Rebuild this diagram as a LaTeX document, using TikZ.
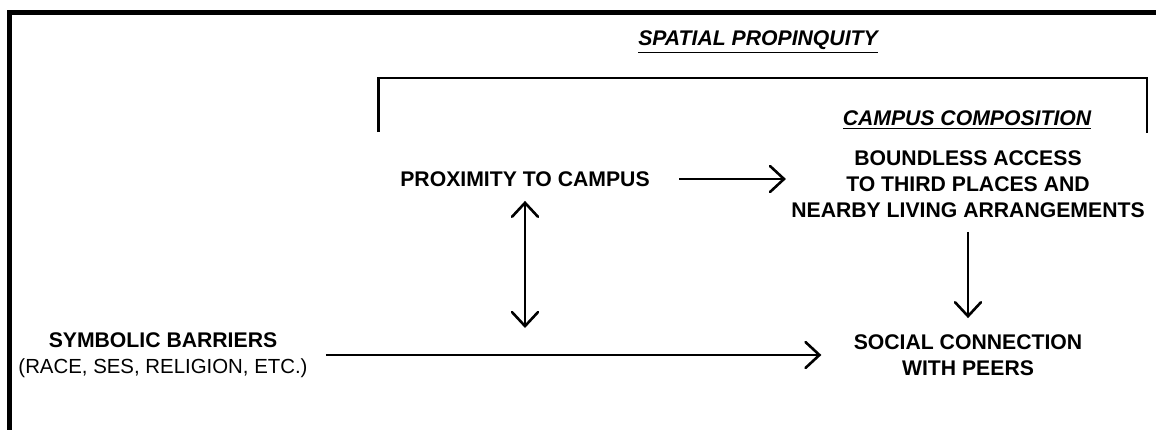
\documentclass[tikz,border=0pt]{standalone}
\usepackage{fontspec}
\setmainfont{Liberation Sans}
\usetikzlibrary{arrows.meta}

\begin{document}
\begin{tikzpicture}[x=0.5pt,y=-0.5pt,
    >={Straight Barb[length=7pt,width=13pt,line cap=round]},
    label/.style = {inner sep=0pt,align=center,font=\fontsize{10.6}{13}\selectfont\bfseries},
    title/.style = {inner sep=0pt,font=\fontsize{10.6}{13}\selectfont\bfseries\itshape},
    arr/.style = {line width=1.3pt,->}]
    \useasboundingbox (0,0) rectangle (1156,429);
    % frame and bracket
    \draw[line width=2.5pt] (9.5,440) -- (9.5,12.5) -- (1170,12.5);
    \draw[line width=1.3pt] (378.5,132) -- (378.5,78) -- (1147,78) -- (1147,133);
    % titles
    \node[title] (spatial) at (758,42) {\underline{SPATIAL PROPINQUITY}};
    \node[title] (comp) at (967,120) {\underline{CAMPUS COMPOSITION}};
    % concepts
    \node[label] (prox) at (525,179) {PROXIMITY TO CAMPUS};
    \node[label] (access) at (968,184) {BOUNDLESS ACCESS\\TO THIRD PLACES AND\\NEARBY LIVING ARRANGEMENTS};
    \node[label] (social) at (968,355) {SOCIAL CONNECTION\\WITH PEERS};
    \node[label] (sym) at (163,355) {SYMBOLIC BARRIERS\\\mdseries\fontsize{10.2}{13}\selectfont(RACE, SES, RELIGION, ETC.)};
    % connectors
    \draw[arr,shorten <=14.5pt,shorten >=2.5pt] (prox.east) -- (prox.east -| access.west);
    \draw[arr,shorten <=7pt,shorten >=8pt] (access.south) -- (social.north);
    \draw[arr,<->,shorten <=7pt,shorten >=13.5pt] (prox.south) -- (prox.south |- sym.center);
    \draw[arr,shorten <=9pt,shorten >=16pt] (sym.east) -- (sym.east -| social.west);
\end{tikzpicture}
\end{document}
